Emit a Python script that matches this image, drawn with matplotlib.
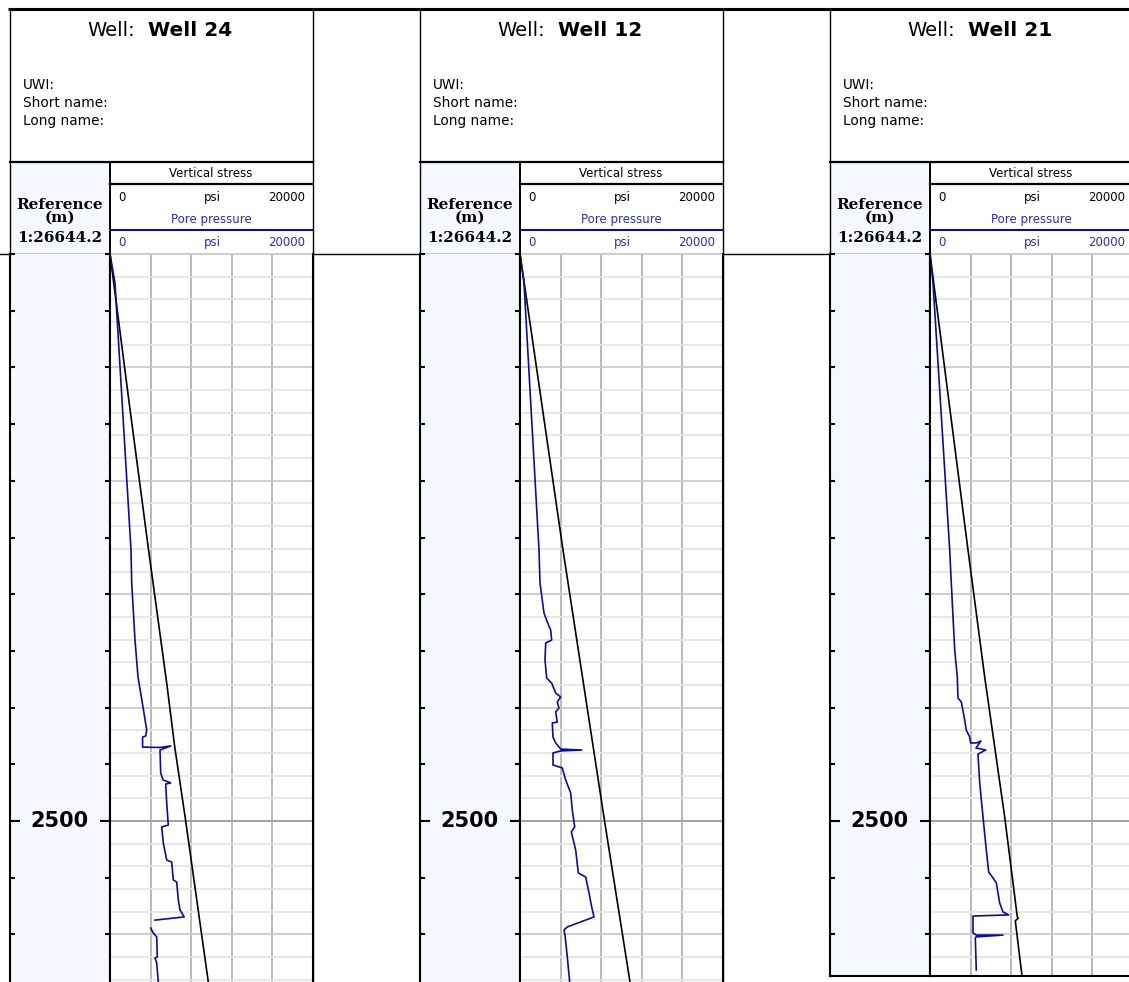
import numpy as np
import matplotlib
matplotlib.use('Agg')
import matplotlib.pyplot as plt
from matplotlib.ticker import MultipleLocator, FixedLocator, NullFormatter
from matplotlib.transforms import blended_transform_factory

# well names and curve data (depth in m, pressure in psi)
well_names = ['Well 24', 'Well 12', 'Well 21']

w24_sv_depth = [0, 650, 1305, 1900, 2174, 2500, 3210]
w24_sv = [0, 1870, 3800, 5610, 6380, 7458, 9685]
w24_pp_depth = [0, 128, 864, 1305, 1451, 1702, 1865, 1997, 2099, 2125, 2130, 2174,
                2176, 2169, 2187, 2288, 2319, 2332, 2337, 2421, 2518, 2526, 2597,
                2672, 2681, 2760, 2769, 2848, 2892, 2923, 2937, np.nan,
                2972, 2994, 3011, 3100, 3104, 3126, 3210]
w24_pp = [0, 493, 1478, 2069, 2138, 2463, 2759, 3251, 3616, 3517, 3212, 3212,
          4926, 5980, 4926, 4994, 5221, 5980, 5488, 5586, 5744, 5094, 5251,
          5586, 6079, 6236, 6571, 6729, 6896, 7310, 4433, np.nan,
          4010, 4266, 4601, 4660, 4433, 4601, 4759]

w12_sv_depth = [0, 1305, 2500, 3210]
w12_sv = [0, 4236, 8330, 10837]
w12_pp_depth = [0, 128, 1305, 1451, 1583, 1623, 1658, 1702, 1715, 1790, 1870,
                1892, 1936, 1953, 1975, 2002, 2019, 2064, 2068, 2130, 2156, 2183,
                2187, 2191, 2200, 2253, 2266, 2319, 2377, 2452, 2526, 2548, 2628,
                2729, 2747, 2817, 2879, 2923, 2967, 2981, 3003, 3100, 3210]
w12_pp = [0, 394, 1872, 1970, 2364, 2690, 3025, 3123, 2532, 2463, 2630,
          3123, 3517, 4010, 3675, 3842, 3517, 3675, 3182, 3251, 3517, 4010,
          6079, 4010, 3251, 3251, 4167, 4502, 4995, 5153, 5389, 5054, 5488,
          5744, 6473, 6798, 7064, 7291, 4660, 4335, 4433, 4660, 4897]

w21_sv_depth = [0, 1305, 1865, 2482, 2923, 2928, 2940, 3183]
w21_sv = [0, 3744, 5389, 7359, 8601, 8700, 8404, 9064]
w21_pp_depth = [0, 128, 1305, 1451, 1746, 1865, 1958, 1975, 2055, 2099, 2130,
                2156, 2156, 2147, 2178, 2187, 2205, 2209, 2332, 2482, 2628, 2725,
                2751, 2773, 2862, 2901, 2914, 2919, 2994, 3003, 3003, 3011, 3016,
                3157]
w21_pp = [0, 296, 1941, 2098, 2433, 2690, 2759, 3084, 3419, 3576, 3911,
          4010, 4571, 5024, 4532, 5488, 4729, 4729, 4897, 5221, 5547, 5783,
          6207, 6532, 6867, 7192, 7754, 4236, 4236, 4562, 7192, 4532, 4463,
          4562]

curves = [
    (w24_sv_depth, w24_sv, w24_pp_depth, w24_pp),
    (w12_sv_depth, w12_sv, w12_pp_depth, w12_pp),
    (w21_sv_depth, w21_sv, w21_pp_depth, w21_pp),
]

labelled_depths = [2500]
scale_min, scale_max = 0, 20000

# ---- layout (pixels) ----
W, H = 1129, 982
panel_step = 410
track_top = 254
px_per_m = 567 / 2500
track_bottoms = [982, 982, 976]

depth_fill = '#f5f9ff'
pp_color = '#0d0d94'
pp_text = '#2e2ea6'

fig = plt.figure(figsize=(W / 100, H / 100), dpi=100)
canvas = fig.add_axes([0, 0, 1, 1])
canvas.set_xlim(0, W)
canvas.set_ylim(H, 0)
canvas.axis('off')


def px_axes(x, y, w, h):
    return fig.add_axes([x / W, 1 - (y + h) / H, w / W, h / H])


# lines running across all panels
canvas.plot([8, W], [9, 9], color='black', lw=2.2, solid_capstyle='butt')
canvas.plot([0, W], [track_top, track_top], color='black', lw=1.0)

for i, name in enumerate(well_names):
    x0 = 10 + panel_step * i
    bottom = track_bottoms[i]
    dmax = (bottom - track_top) / px_per_m
    sv_d, sv, pp_d, pp = curves[i]

    # header box
    canvas.plot([x0, x0], [9, bottom], color='black', lw=1.0)
    canvas.plot([x0 + 303, x0 + 303], [9, bottom], color='black', lw=1.0)
    canvas.text(x0 + 125, 30, 'Well:', ha='right', va='center', fontsize=14)
    canvas.text(x0 + 138, 30, name, ha='left', va='center', fontsize=14.5,
                fontweight='bold')
    for k, lbl in enumerate(['UWI:', 'Short name:', 'Long name:']):
        canvas.text(x0 + 13, 85 + 18 * k, lbl, ha='left', va='center', fontsize=9.8)

    # depth header cell
    canvas.fill_between([x0, x0 + 100], 162, track_top, color=depth_fill, lw=0)
    canvas.plot([x0, x0 + 303], [162, 162], color='black', lw=1.6)
    canvas.plot([x0 + 100, x0 + 100], [162, track_top], color='black', lw=1.4)
    canvas.text(x0 + 50, 211, 'Reference\n(m)', ha='center', va='center',
                fontsize=11, linespacing=0.85, family='DejaVu Serif',
                fontweight='bold')
    canvas.text(x0 + 50, 238, '1:26644.2', ha='center', va='center', fontsize=11,
                family='DejaVu Serif', fontweight='bold')

    # track header
    tx = x0 + 100
    canvas.text(tx + 101, 173, 'Vertical stress', ha='center', va='center', fontsize=8.5)
    canvas.plot([tx, tx + 203], [184, 184], color='black', lw=1.6)
    canvas.text(tx + 8, 197, str(scale_min), ha='left', va='center', fontsize=8.5)
    canvas.text(tx + 102, 197, 'psi', ha='center', va='center', fontsize=8.5)
    canvas.text(tx + 195, 197, str(scale_max), ha='right', va='center', fontsize=8.5)
    canvas.text(tx + 101, 219, 'Pore pressure', ha='center', va='center',
                fontsize=8.5, color=pp_text)
    canvas.plot([tx, tx + 203], [230, 230], color=pp_color, lw=1.5)
    canvas.text(tx + 8, 242, str(scale_min), ha='left', va='center', fontsize=8.5, color=pp_text)
    canvas.text(tx + 102, 242, 'psi', ha='center', va='center', fontsize=8.5, color=pp_text)
    canvas.text(tx + 195, 242, str(scale_max), ha='right', va='center', fontsize=8.5, color=pp_text)

    # depth track
    dax = px_axes(x0, track_top, 100, bottom - track_top)
    dax.set_facecolor(depth_fill)
    dax.set_xlim(0, 1)
    dax.set_ylim(dmax, 0)
    dax.set_xticks([])
    dax.yaxis.set_major_locator(FixedLocator(labelled_depths))
    dax.yaxis.set_minor_locator(MultipleLocator(250))
    dax.yaxis.set_major_formatter(NullFormatter())
    dax.tick_params(axis='y', which='both', direction='in', left=True, right=True,
                    width=1.5, color='black')
    dax.tick_params(axis='y', which='major', length=7.5)
    dax.tick_params(axis='y', which='minor', length=3.8)
    for s in dax.spines.values():
        s.set_linewidth(1.5)
    dax.spines['top'].set_visible(False)
    if bottom >= H:
        dax.spines['bottom'].set_visible(False)
    tr = blended_transform_factory(dax.transAxes, dax.transData)
    for d in labelled_depths:
        dax.text(0.49, d, str(d), transform=tr, ha='center', va='center',
                 fontsize=15, fontweight='bold')

    # curve track
    tax = px_axes(tx, track_top, 203, bottom - track_top)
    tax.set_xlim(scale_min, scale_max)
    tax.set_ylim(dmax, 0)
    tax.xaxis.set_major_locator(MultipleLocator(4000))
    tax.yaxis.set_major_locator(MultipleLocator(500))
    tax.yaxis.set_minor_locator(MultipleLocator(100))
    tax.tick_params(which='both', length=0, labelbottom=False, labelleft=False)
    tax.grid(axis='y', which='minor', color='#e4e4e4', lw=1.3)
    tax.grid(axis='y', which='major', color='#cbcbcb', lw=1.3)
    tax.grid(axis='x', which='major', color='#b8b8b8', lw=1.4)
    for d in labelled_depths:
        tax.axhline(d, color='#a3a3a3', lw=1.4)
    for s in tax.spines.values():
        s.set_linewidth(1.5)
    tax.spines['top'].set_visible(False)
    if bottom >= H:
        tax.spines['bottom'].set_visible(False)

    tax.plot(sv, sv_d, color='black', lw=1.2)
    tax.plot(pp, pp_d, color=pp_color, lw=1.2)

fig.savefig('out.png', dpi=100)
